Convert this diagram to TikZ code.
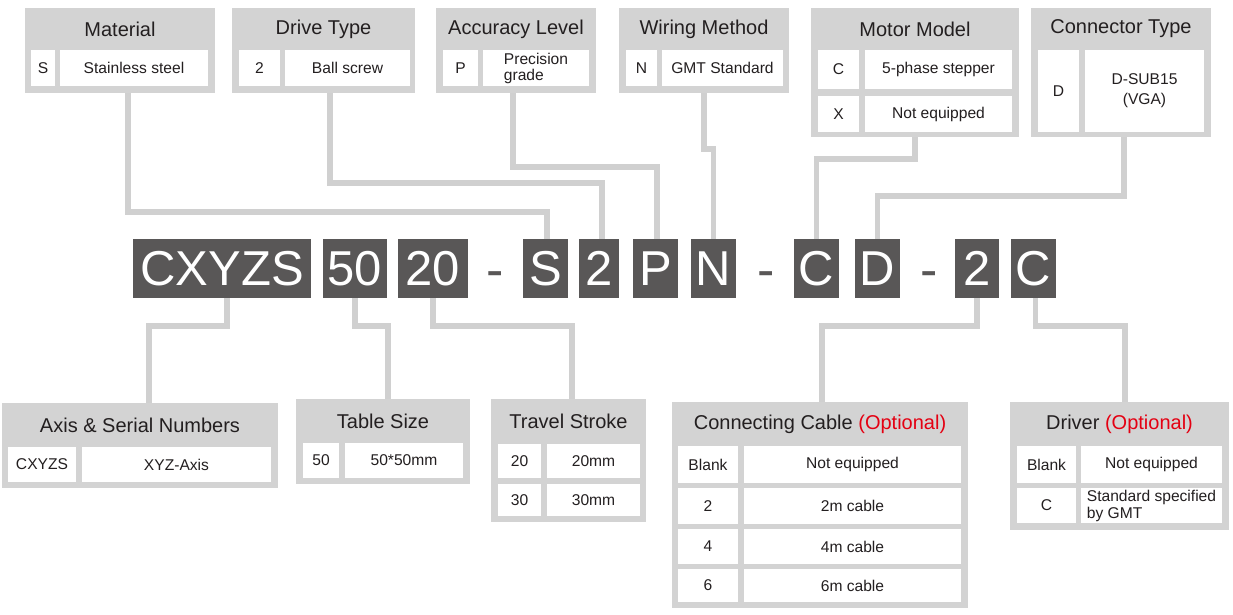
\documentclass[tikz,border=0pt]{standalone}
\usepackage{fontspec}
\setmainfont{Liberation Sans}

\definecolor{panelgray}{RGB}{211,211,211}
\definecolor{wiregray}{RGB}{208,208,208}
\definecolor{codegray}{RGB}{89,87,87}
\definecolor{txt}{RGB}{35,31,32}
\definecolor{optred}{RGB}{228,0,18}

\begin{document}
\begin{tikzpicture}[x=1pt, y=-1pt,
  corners/.style n args={4}{minimum width={(#3-#1)*1pt}, minimum height={(#4-#2)*1pt},
    at={({(#1+#3)/2},{(#2+#4)/2})}},
  panel/.style={fill=panelgray, inner sep=0pt, outer sep=0pt},
  cell/.style={fill=white, inner sep=0pt, outer sep=0pt, text=txt, align=center,
    font=\fontsize{15.6}{16}\selectfont},
  ttl/.style={text=txt, inner sep=0pt, font=\fontsize{20}{24}\selectfont},
  code/.style={fill=codegray, text=white, inner sep=0pt, outer sep=0pt,
    font=\fontsize{49}{50}\selectfont},
  hyph/.style={text=codegray, inner sep=0pt, anchor=base, font=\fontsize{52}{50}\selectfont},
  wire/.style={draw=wiregray, line width=5.5pt}]
\fill[white] (0,0) rectangle (1233,614);
\useasboundingbox (0,0) rectangle (1233,614);

% top tables
\node[panel, corners={25}{8}{215}{93}] (mat) {};
\node[ttl] (mat-t) at (120,29) {Material};
\node[cell, corners={31}{50}{55}{86}] (mat-k) {S};
\node[cell, corners={60}{50}{208}{86}] (mat-v) {Stainless steel};

\node[panel, corners={232}{8}{415}{93}] (drv) {};
\node[ttl] (drv-t) at (323.5,29) {Drive Type};
\node[cell, corners={239}{50}{280}{86}] (drv-k) {2};
\node[cell, corners={285}{50}{410}{86}] (drv-v) {Ball screw};

\node[panel, corners={436}{8}{596}{93}] (acc) {};
\node[ttl] (acc-t) at (516,29) {Accuracy Level};
\node[cell, corners={443}{50}{478}{86}] (acc-k) {P};
\node[cell, corners={483}{50}{589}{86}, align=left] (acc-v) {Precision\\grade};

\node[panel, corners={619}{8}{789}{93}] (wir) {};
\node[ttl] (wir-t) at (704,29) {Wiring Method};
\node[cell, corners={626}{50}{657}{86}] (wir-k) {N};
\node[cell, corners={662}{50}{783}{86}] (wir-v) {GMT Standard};

\node[panel, corners={811}{8}{1019}{137}] (mot) {};
\node[ttl] (mot-t) at (915,29) {Motor Model};
\node[cell, corners={818}{50}{859}{89}] (mot-k1) {C};
\node[cell, corners={865}{50}{1012}{89}] (mot-v1) {5-phase stepper};
\node[cell, corners={818}{96}{859}{132}] (mot-k2) {X};
\node[cell, corners={865}{96}{1012}{132}] (mot-v2) {Not equipped};

\node[panel, corners={1031}{8}{1211}{137}] (con) {};
\node[ttl] (con-t) at (1121,29) {Connector Type};
\node[cell, corners={1038}{50}{1079}{132}] (con-k) {D};
\node[cell, corners={1085}{50}{1204}{132}, font=\fontsize{15.6}{20}\selectfont] (con-v) {D-SUB15\\(VGA)};

% model code
\node[code, corners={133}{239}{311}{298}] (cxyzs) {CXYZS};
\node[code, corners={323}{239}{387}{298}] (size) {50};
\node[code, corners={398}{239}{468}{298}] (stroke) {20};
\node[hyph] (dash1) at (495,287) {-};
\node[code, corners={523}{239}{568}{298}] (matl) {S};
\node[code, corners={579}{239}{619}{298}] (drive) {2};
\node[code, corners={633}{239}{678}{298}] (accu) {P};
\node[code, corners={691}{239}{736}{298}] (wiring) {N};
\node[hyph] (dash2) at (766,287) {-};
\node[code, corners={794}{239}{839}{298}] (motor) {C};
\node[code, corners={855}{239}{900}{298}] (conn) {D};
\node[hyph] (dash3) at (929,287) {-};
\node[code, corners={955}{239}{999}{298}] (cable) {2};
\node[code, corners={1011}{239}{1056}{298}] (driver) {C};

% bottom tables
\node[panel, corners={2}{403}{278}{488}] (axs) {};
\node[ttl] (axs-t) at (140,425) {Axis \& Serial Numbers};
\node[cell, corners={8}{447}{76}{482}] (axs-k) {CXYZS};
\node[cell, corners={82}{447}{271}{482}] (axs-v) {XYZ-Axis};

\node[panel, corners={296}{399}{470}{484}] (tbl) {};
\node[ttl] (tbl-t) at (383,421) {Table Size};
\node[cell, corners={303}{443}{339}{478}] (tbl-k) {50};
\node[cell, corners={345}{443}{463}{478}] (tbl-v) {50*50mm};

\node[panel, corners={491}{399}{646}{522}] (trv) {};
\node[ttl] (trv-t) at (568.5,421.5) {Travel Stroke};
\node[cell, corners={498}{444}{541}{478}] (trv-k1) {20};
\node[cell, corners={547}{444}{640}{478}] (trv-v1) {20mm};
\node[cell, corners={498}{484}{541}{516}] (trv-k2) {30};
\node[cell, corners={547}{484}{640}{516}] (trv-v2) {30mm};

\node[panel, corners={672}{402}{968}{608}] (cbl) {};
\node[ttl] (cbl-t) at (820,424) {Connecting Cable \textcolor{optred}{(Optional)}};
\node[cell, corners={678}{446}{738}{483}] (cbl-k1) {Blank};
\node[cell, corners={744}{446}{961}{483}] (cbl-v1) {Not equipped};
\node[cell, corners={678}{488}{738}{524}] (cbl-k2) {2};
\node[cell, corners={744}{488}{961}{524}] (cbl-v2) {2m cable};
\node[cell, corners={678}{529}{738}{564}] (cbl-k3) {4};
\node[cell, corners={744}{529}{961}{564}] (cbl-v3) {4m cable};
\node[cell, corners={678}{569}{738}{602}] (cbl-k4) {6};
\node[cell, corners={744}{569}{961}{602}] (cbl-v4) {6m cable};

\node[panel, corners={1010}{402}{1229}{530}] (drvr) {};
\node[ttl] (drvr-t) at (1119.5,424) {Driver \textcolor{optred}{(Optional)}};
\node[cell, corners={1017}{446}{1076}{483}] (drvr-k1) {Blank};
\node[cell, corners={1081}{446}{1222}{483}] (drvr-v1) {Not equipped};
\node[cell, corners={1017}{488}{1076}{523}] (drvr-k2) {C};
\node[cell, corners={1081}{488}{1222}{523}, align=left, font=\fontsize{15.6}{17}\selectfont] (drvr-v2) {Standard specified\\by GMT};

% leader lines, top
\draw[wire] ([xshift=8pt]mat.south) -- ++(0,119) -| ([xshift=1.5pt]matl.north);
\draw[wire] ([xshift=6.5pt]drv.south) -- ++(0,90) -| ([xshift=3pt]drive.north);
\draw[wire] ([xshift=-3pt]acc.south) -- ++(0,74) -| ([xshift=1.5pt]accu.north);
\draw[wire] (wir.south) -- ++(0,56) -| (wiring.north);
\draw[wire] (mot.south) -- ++(0,22) -| (motor.north);
\draw[wire] ([xshift=3pt]con.south) -- ++(0,59) -| (conn.north);

% leader lines, bottom
\draw[wire] ([xshift=5pt]cxyzs.south) -- ++(0,28) -| ([xshift=9pt]axs.north);
\draw[wire] (size.south) -- ++(0,28) -| ([xshift=5pt]tbl.north);
\draw[wire] (stroke.south) -- ++(0,28) -| ([xshift=3.5pt]trv.north);
\draw[wire] (cable.south) -- ++(0,28) -| ([xshift=2pt]cbl.north);
\draw[wire] ([xshift=2pt]driver.south) -- ++(0,28) -| ([xshift=5.5pt]drvr.north);
\end{tikzpicture}
\end{document}
